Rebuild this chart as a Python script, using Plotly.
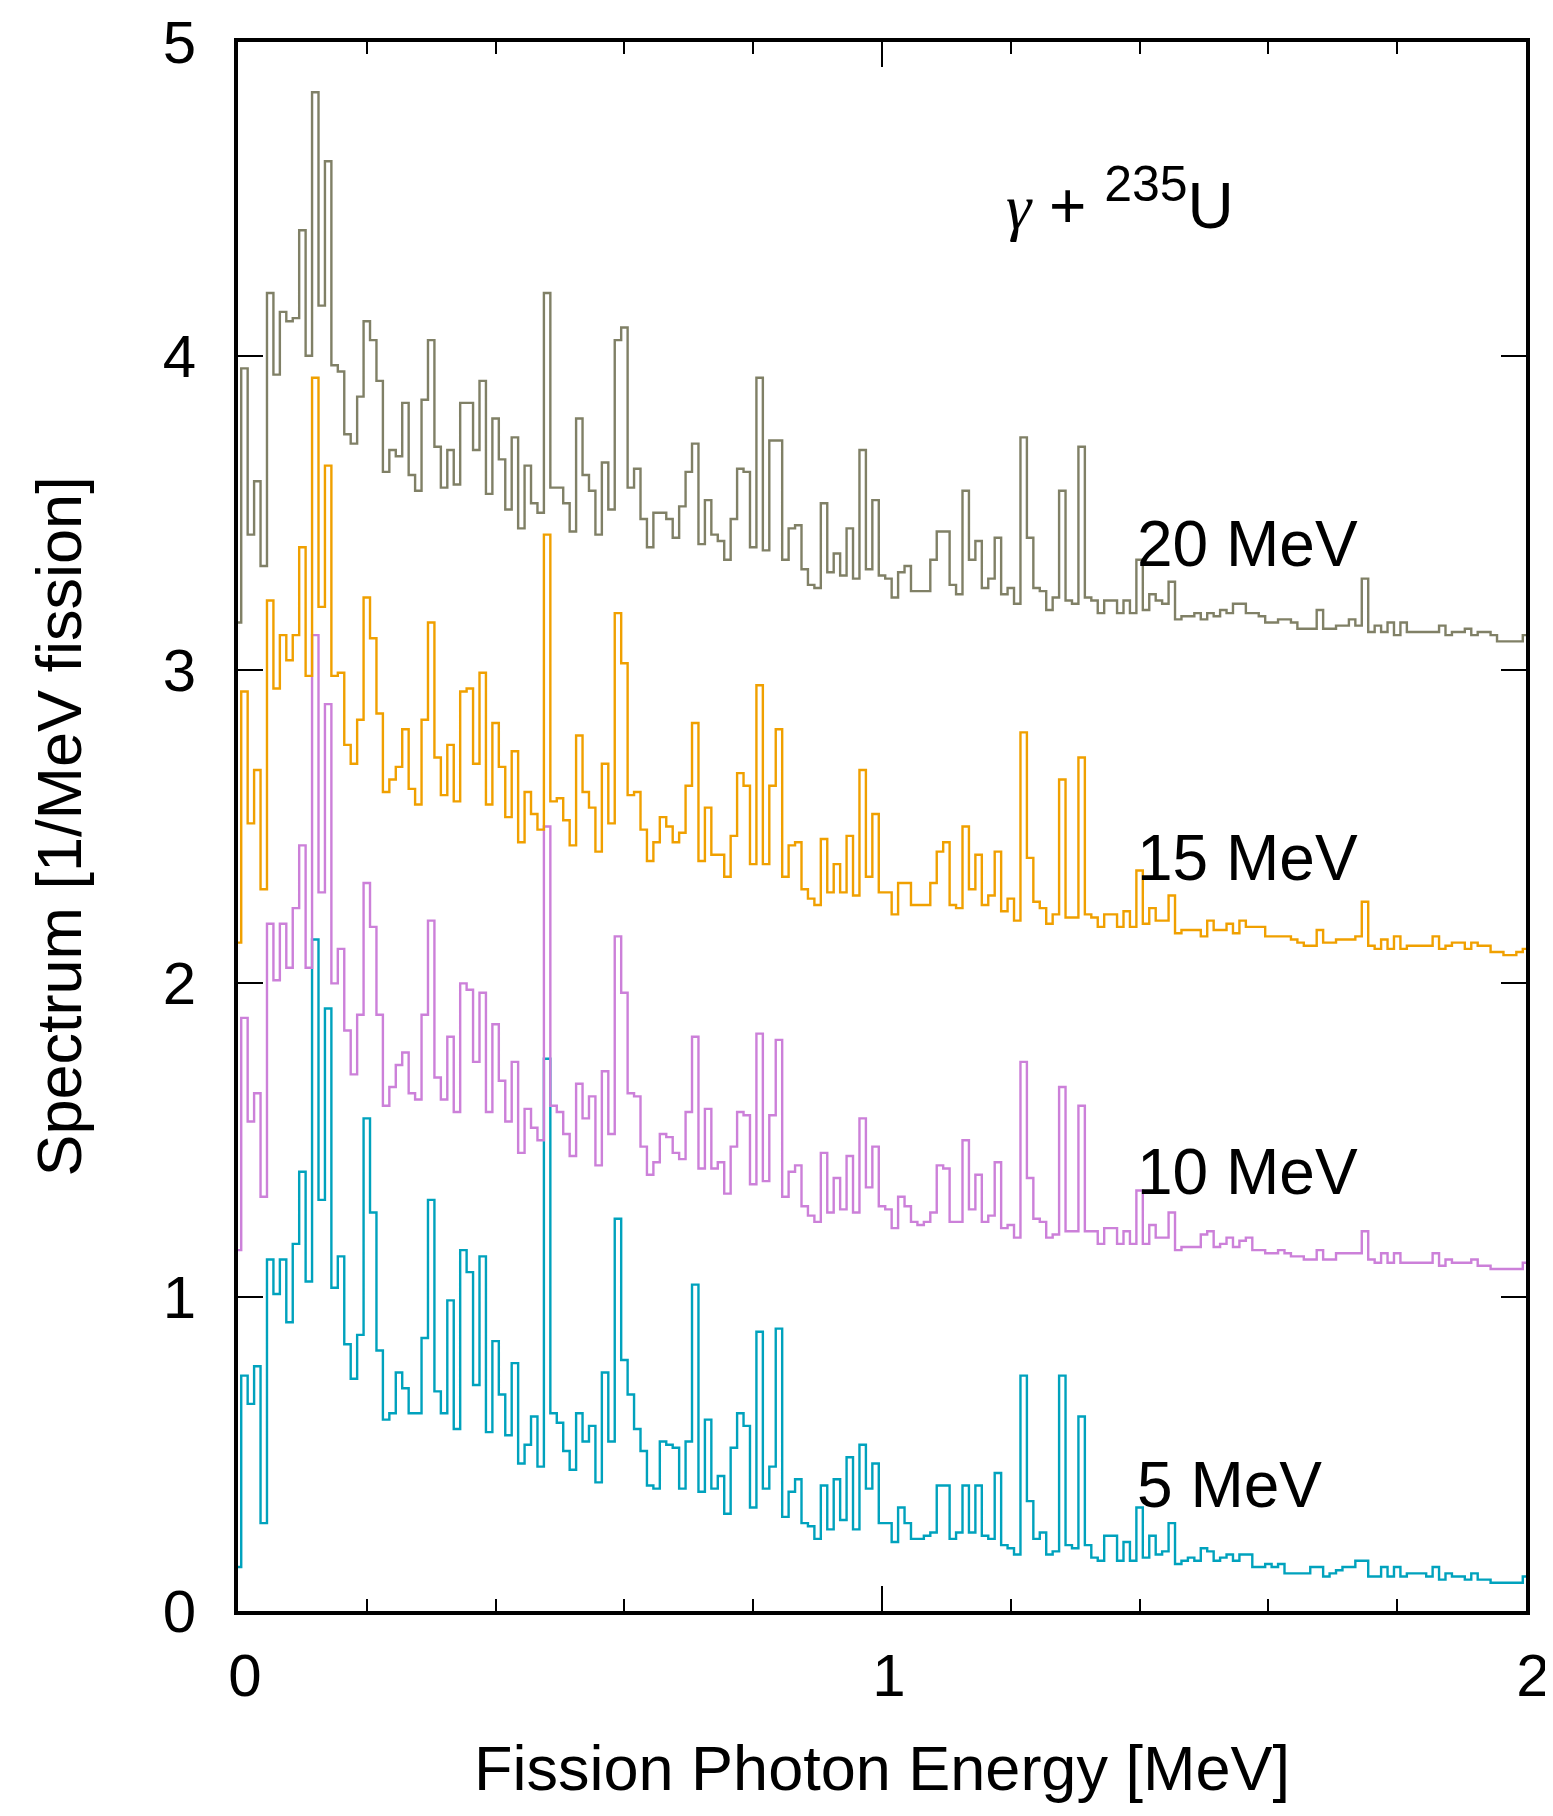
import plotly.graph_objects as go

# Photon energy grid [MeV] (bin centres, 0.01 MeV spacing)
energy = [round(0.01 * i, 2) for i in range(201)]

# Plotted spectra (each curve shifted by its offset in the original figure)
s20 = [3.15, 3.96, 3.43, 3.60, 3.33, 4.20, 3.94, 4.14, 4.11, 4.12,
       4.40, 4.00, 4.84, 4.16, 4.62, 3.97, 3.95, 3.75, 3.72, 3.87,
       4.11, 4.05, 3.92, 3.63, 3.70, 3.68, 3.85, 3.62, 3.57, 3.86,
       4.05, 3.71, 3.58, 3.70, 3.59, 3.85, 3.85, 3.70, 3.92, 3.56,
       3.80, 3.67, 3.51, 3.74, 3.45, 3.65, 3.53, 3.50, 4.20, 3.58,
       3.58, 3.53, 3.44, 3.80, 3.62, 3.57, 3.43, 3.66, 3.51, 4.05,
       4.09, 3.58, 3.64, 3.48, 3.39, 3.50, 3.50, 3.48, 3.42, 3.52,
       3.63, 3.72, 3.40, 3.54, 3.43, 3.41, 3.35, 3.48, 3.64, 3.63,
       3.39, 3.93, 3.38, 3.73, 3.73, 3.35, 3.45, 3.46, 3.32, 3.27,
       3.26, 3.53, 3.31, 3.37, 3.30, 3.45, 3.29, 3.70, 3.32, 3.54,
       3.30, 3.29, 3.23, 3.31, 3.33, 3.25, 3.25, 3.25, 3.35, 3.44,
       3.44, 3.27, 3.24, 3.57, 3.35, 3.41, 3.26, 3.29, 3.42, 3.24,
       3.26, 3.21, 3.74, 3.42, 3.26, 3.25, 3.19, 3.23, 3.57, 3.22,
       3.21, 3.71, 3.23, 3.22, 3.18, 3.22, 3.22, 3.18, 3.22, 3.18,
       3.35, 3.19, 3.24, 3.22, 3.21, 3.28, 3.16, 3.17, 3.17, 3.18,
       3.16, 3.18, 3.17, 3.19, 3.18, 3.21, 3.21, 3.18, 3.18, 3.17,
       3.15, 3.15, 3.16, 3.16, 3.15, 3.13, 3.13, 3.13, 3.19, 3.13,
       3.13, 3.14, 3.14, 3.16, 3.14, 3.29, 3.12, 3.14, 3.12, 3.15,
       3.11, 3.15, 3.12, 3.12, 3.12, 3.12, 3.12, 3.14, 3.11, 3.12,
       3.12, 3.13, 3.11, 3.12, 3.12, 3.11, 3.09, 3.09, 3.09, 3.09,
       3.11]

s15 = [2.13, 2.93, 2.51, 2.68, 2.30, 3.22, 2.94, 3.11, 3.03, 3.11,
       3.39, 2.98, 3.93, 3.20, 3.65, 2.98, 2.99, 2.76, 2.70, 2.84,
       3.23, 3.10, 2.86, 2.61, 2.65, 2.69, 2.81, 2.62, 2.57, 2.84,
       3.15, 2.72, 2.60, 2.76, 2.58, 2.93, 2.94, 2.70, 2.99, 2.57,
       2.83, 2.69, 2.53, 2.74, 2.45, 2.61, 2.54, 2.49, 3.43, 2.58,
       2.59, 2.52, 2.44, 2.79, 2.61, 2.56, 2.42, 2.70, 2.51, 3.18,
       3.02, 2.60, 2.61, 2.49, 2.39, 2.45, 2.53, 2.50, 2.45, 2.48,
       2.63, 2.83, 2.39, 2.56, 2.41, 2.41, 2.34, 2.47, 2.67, 2.63,
       2.38, 2.95, 2.38, 2.63, 2.81, 2.34, 2.44, 2.45, 2.30, 2.27,
       2.25, 2.46, 2.29, 2.38, 2.29, 2.47, 2.28, 2.68, 2.34, 2.54,
       2.29, 2.29, 2.22, 2.32, 2.32, 2.25, 2.25, 2.25, 2.32, 2.42,
       2.45, 2.25, 2.24, 2.50, 2.30, 2.41, 2.25, 2.28, 2.42, 2.23,
       2.27, 2.20, 2.80, 2.40, 2.26, 2.24, 2.19, 2.22, 2.65, 2.21,
       2.21, 2.72, 2.22, 2.21, 2.18, 2.22, 2.22, 2.18, 2.23, 2.18,
       2.36, 2.19, 2.24, 2.20, 2.20, 2.28, 2.16, 2.17, 2.17, 2.17,
       2.15, 2.20, 2.17, 2.17, 2.19, 2.16, 2.20, 2.18, 2.18, 2.18,
       2.15, 2.15, 2.15, 2.15, 2.14, 2.13, 2.12, 2.12, 2.17, 2.13,
       2.13, 2.14, 2.14, 2.14, 2.15, 2.26, 2.12, 2.11, 2.14, 2.11,
       2.15, 2.11, 2.12, 2.12, 2.12, 2.12, 2.15, 2.11, 2.12, 2.13,
       2.13, 2.11, 2.13, 2.12, 2.12, 2.10, 2.10, 2.09, 2.09, 2.10,
       2.11]

s10 = [1.15, 1.89, 1.56, 1.65, 1.32, 2.19, 2.01, 2.19, 2.05, 2.24,
       2.44, 2.05, 3.11, 2.29, 2.89, 2.00, 2.11, 1.85, 1.71, 1.90,
       2.32, 2.18, 1.90, 1.61, 1.67, 1.74, 1.78, 1.65, 1.63, 1.90,
       2.20, 1.70, 1.63, 1.83, 1.59, 2.00, 1.98, 1.75, 1.97, 1.59,
       1.87, 1.69, 1.56, 1.75, 1.46, 1.60, 1.54, 1.50, 2.50, 1.61,
       1.59, 1.52, 1.45, 1.68, 1.57, 1.64, 1.42, 1.72, 1.52, 2.15,
       1.97, 1.65, 1.64, 1.48, 1.39, 1.43, 1.52, 1.51, 1.46, 1.44,
       1.59, 1.83, 1.41, 1.60, 1.41, 1.43, 1.33, 1.48, 1.59, 1.58,
       1.36, 1.84, 1.37, 1.58, 1.82, 1.32, 1.40, 1.42, 1.29, 1.26,
       1.24, 1.46, 1.27, 1.38, 1.28, 1.45, 1.27, 1.57, 1.35, 1.48,
       1.29, 1.28, 1.22, 1.32, 1.29, 1.24, 1.23, 1.24, 1.27, 1.42,
       1.41, 1.24, 1.24, 1.50, 1.28, 1.39, 1.24, 1.26, 1.43, 1.22,
       1.23, 1.19, 1.75, 1.38, 1.25, 1.24, 1.19, 1.20, 1.67, 1.21,
       1.21, 1.61, 1.21, 1.21, 1.17, 1.22, 1.22, 1.17, 1.21, 1.17,
       1.34, 1.17, 1.23, 1.19, 1.19, 1.27, 1.15, 1.16, 1.16, 1.16,
       1.20, 1.21, 1.16, 1.17, 1.19, 1.16, 1.18, 1.19, 1.15, 1.15,
       1.14, 1.14, 1.15, 1.14, 1.13, 1.13, 1.12, 1.12, 1.15, 1.12,
       1.12, 1.14, 1.14, 1.14, 1.14, 1.21, 1.12, 1.11, 1.14, 1.11,
       1.14, 1.11, 1.11, 1.11, 1.11, 1.11, 1.14, 1.10, 1.12, 1.11,
       1.11, 1.11, 1.12, 1.10, 1.10, 1.09, 1.09, 1.09, 1.09, 1.09,
       1.11]

s5 = [0.14, 0.75, 0.66, 0.78, 0.28, 1.12, 1.01, 1.12, 0.92, 1.17,
      1.40, 1.05, 2.14, 1.31, 1.92, 1.03, 1.13, 0.85, 0.74, 0.88,
      1.57, 1.27, 0.83, 0.61, 0.63, 0.76, 0.71, 0.63, 0.63, 0.87,
      1.31, 0.70, 0.63, 0.99, 0.58, 1.15, 1.08, 0.72, 1.13, 0.57,
      0.86, 0.69, 0.56, 0.79, 0.47, 0.53, 0.62, 0.46, 1.76, 0.63,
      0.60, 0.51, 0.45, 0.63, 0.54, 0.59, 0.41, 0.76, 0.54, 1.25,
      0.80, 0.69, 0.58, 0.51, 0.40, 0.39, 0.54, 0.53, 0.52, 0.39,
      0.54, 1.04, 0.38, 0.61, 0.39, 0.43, 0.31, 0.52, 0.63, 0.59,
      0.33, 0.89, 0.39, 0.46, 0.90, 0.30, 0.38, 0.42, 0.28, 0.27,
      0.23, 0.40, 0.26, 0.42, 0.29, 0.49, 0.26, 0.53, 0.39, 0.47,
      0.28, 0.28, 0.22, 0.33, 0.28, 0.23, 0.23, 0.24, 0.25, 0.40,
      0.40, 0.23, 0.25, 0.40, 0.25, 0.40, 0.24, 0.23, 0.44, 0.21,
      0.20, 0.18, 0.75, 0.35, 0.23, 0.25, 0.18, 0.19, 0.75, 0.21,
      0.20, 0.62, 0.21, 0.17, 0.16, 0.24, 0.24, 0.16, 0.22, 0.16,
      0.33, 0.17, 0.24, 0.18, 0.19, 0.28, 0.15, 0.16, 0.17, 0.16,
      0.20, 0.19, 0.16, 0.17, 0.18, 0.16, 0.18, 0.18, 0.14, 0.14,
      0.15, 0.14, 0.15, 0.12, 0.12, 0.12, 0.12, 0.14, 0.14, 0.11,
      0.12, 0.13, 0.14, 0.14, 0.16, 0.16, 0.11, 0.11, 0.14, 0.11,
      0.14, 0.11, 0.12, 0.12, 0.12, 0.11, 0.14, 0.10, 0.12, 0.11,
      0.11, 0.10, 0.12, 0.10, 0.10, 0.09, 0.09, 0.09, 0.09, 0.09,
      0.11]

series_names = ["5 MeV", "10 MeV", "15 MeV", "20 MeV"]
series_values = [s5, s10, s15, s20]
series_colors = ["#00a2bd", "#cc80d9", "#f0a000", "#808066"]
label_y = [0.4, 1.4, 2.4, 3.4]

x_ticks = [0, 1, 2]
y_ticks = [0, 1, 2, 3, 4, 5]

FONT = "Liberation Sans, Arial, Helvetica, sans-serif"

fig = go.Figure()
for name, vals, col in zip(series_names, series_values, series_colors):
    fig.add_trace(go.Scatter(
        x=energy, y=vals, mode="lines", name=name,
        line=dict(color=col, width=2.4, shape="hvh"),
        showlegend=False, hoverinfo="skip"))

for name, yv in zip(series_names, label_y):
    fig.add_annotation(x=1.393, y=yv, xref="x", yref="y", text=name,
                       showarrow=False, xanchor="left", yanchor="middle",
                       font=dict(size=64, color="black", family=FONT))

fig.add_annotation(
    x=1.19, y=4.5, xref="x", yref="y",
    text="<span style=\"font-family:'Liberation Serif', serif\"><i>γ</i></span> + "
         "<sup><span style=\"font-size:50px\">235</span></sup>U",
    showarrow=False, xanchor="left", yanchor="middle",
    font=dict(size=64, color="black", family=FONT))

axis_common = dict(showline=True, linewidth=4, linecolor="black",
                   mirror="allticks", ticks="inside", ticklen=25,
                   tickwidth=1.5, tickcolor="black", showgrid=False,
                   zeroline=False, automargin=False,
                   ticklabeloverflow="allow",
                   tickfont=dict(size=60, family=FONT, color="black"),
                   title_font=dict(size=63, family=FONT, color="black"))

fig.update_xaxes(range=[0, 2], tickvals=x_ticks, ticktext=[str(t) for t in x_ticks],
                 minor=dict(dtick=0.2, tick0=0, ticks="inside", ticklen=12,
                            tickwidth=1.5, tickcolor="black"),
                 ticklabelstandoff=9, ticklabelshift=7,
                 title=dict(text="Fission Photon Energy [MeV]", standoff=39),
                 **axis_common)
fig.update_yaxes(range=[0, 5], tickvals=y_ticks, ticktext=[str(t) for t in y_ticks],
                 ticklabelstandoff=26,
                 title=dict(text="Spectrum [1/MeV fission]", standoff=62),
                 **axis_common)

# The page body keeps the browser's default 8 px margin, so the figure is
# sized 8 px smaller to land the frame where the reference has it.
fig.update_layout(width=1545, height=1808,
                  margin=dict(l=230, r=27, t=34, b=205),
                  paper_bgcolor="white", plot_bgcolor="white",
                  font=dict(family=FONT, color="black"))

fig.write_html("out.html")
